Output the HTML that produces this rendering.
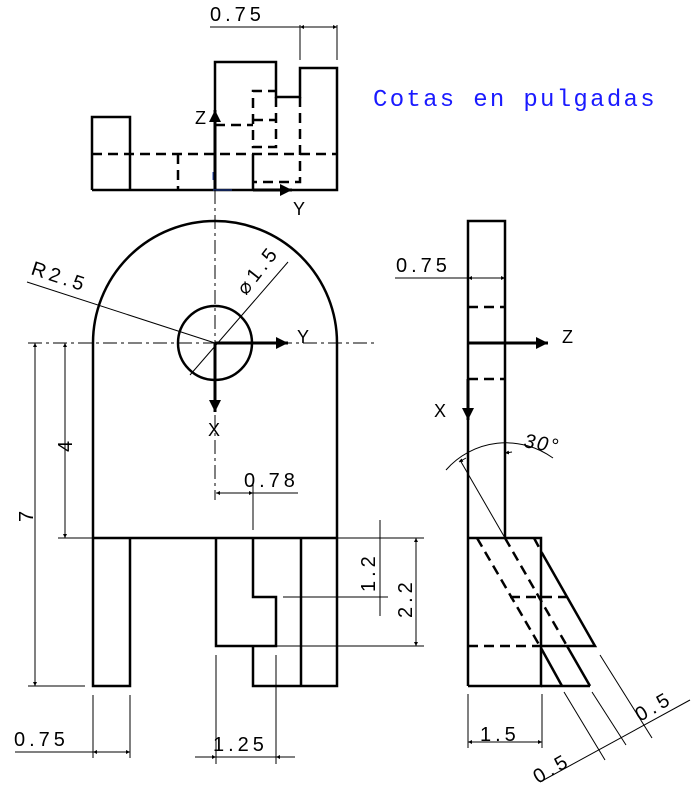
<!DOCTYPE html>
<html><head><meta charset="utf-8"><style>
html,body{margin:0;padding:0;background:#fff}
svg{display:block}
text{font-family:"Liberation Sans",sans-serif;font-size:20px;fill:#000;letter-spacing:4px}
</style></head><body>
<svg width="700" height="786" viewBox="0 0 700 786" xmlns="http://www.w3.org/2000/svg">
<defs>
<marker id="a" viewBox="0 0 10 10" refX="10" refY="5" markerWidth="6" markerHeight="4" orient="auto-start-reverse"><path d="M0,0L10,5L0,10z" fill="#000"/></marker>
<marker id="b" viewBox="0 0 10 10" refX="10" refY="5" markerWidth="4" markerHeight="4" orient="auto-start-reverse"><path d="M0,0L10,5L0,10z" fill="#000"/></marker>
</defs>
<text x="373" y="106" style="font-family:'Liberation Mono',monospace;font-size:24px;fill:#1a1aff;letter-spacing:2.3px">Cotas en pulgadas</text>

<!-- TOP VIEW -->
<g stroke="#000" stroke-width="2.5" fill="none">
<path d="M92,190V117H130V190"/>
<path d="M92,190H337V68H300V97H276V62H215V190"/>
<path d="M253,154V190"/>
</g>
<g stroke="#000" stroke-width="2.5" fill="none" stroke-dasharray="10,6">
<path d="M92,154H337"/><path d="M178,154V190"/>
<path d="M276,97V147H253V91H276"/><path d="M253,120H276"/>
<path d="M215,125H253"/><path d="M300,97V182H253"/>
</g>
<path d="M215,190V110" stroke="#000" stroke-width="3" marker-end="url(#a)"/>
<path d="M253,190H292" stroke="#000" stroke-width="3" marker-end="url(#a)"/>
<text x="195" y="124" style="letter-spacing:0;font-size:18px">Z</text>
<text x="293" y="215" style="letter-spacing:0;font-size:18px">Y</text>
<path d="M213,180V172M213,190H232" stroke="#2244aa" stroke-width="1"/>
<g stroke="#000" stroke-width="1" fill="none">
<path d="M300,60V25M337,60V25M210,27H337"/>
<path d="M300,27H318" marker-start="url(#b)"/><path d="M318,27H337" marker-end="url(#b)"/>
</g>
<text x="210" y="21">0.75</text>

<!-- FRONT VIEW -->
<g stroke="#000" stroke-width="1" fill="none" stroke-dasharray="14,4,3,4">
<path d="M28,343H375"/><path d="M215,190V500"/>
</g>
<g stroke="#000" stroke-width="2.5" fill="none">
<path d="M93,538V343A122,122 0 0 1 337,343V686H253V646"/>
<path d="M93,538H337"/>
<path d="M93,538V686H130V538"/>
<path d="M216,538V646H276V597H253V538"/>
<path d="M301,538V686"/>
<circle cx="215" cy="343" r="37"/>
</g>
<path d="M215,343H288" stroke="#000" stroke-width="3" marker-end="url(#a)"/>
<path d="M215,343V412" stroke="#000" stroke-width="3" marker-end="url(#a)"/>
<text x="297" y="343" style="letter-spacing:0;font-size:18px">Y</text>
<text x="208" y="436" style="letter-spacing:0;font-size:18px">X</text>
<g stroke="#000" stroke-width="1" fill="none">
<path d="M27,282L215,343"/>
<path d="M190,375L288,262"/>
<path d="M35,343V686" marker-start="url(#b)" marker-end="url(#b)"/>
<path d="M28,686H85"/>
<path d="M65,343V538" marker-start="url(#b)" marker-end="url(#b)"/>
<path d="M58,538H93"/>
<path d="M216,493H253" marker-start="url(#b)" marker-end="url(#b)"/><path d="M253,493H298M253,482V530"/>
<path d="M380,520V616"/>
<path d="M283,597H388"/>
<path d="M416,538V646" marker-start="url(#b)" marker-end="url(#b)"/>
<path d="M337,538H424M276,646H424"/>
<path d="M93,695V758M130,695V758M15,752H130"/>
<path d="M93,752H110" marker-start="url(#b)"/><path d="M112,752H130" marker-end="url(#b)"/>
<path d="M216,655V764M276,655V764M195,757H295"/>
<path d="M200,757H216" marker-end="url(#b)"/><path d="M295,757H276" marker-end="url(#b)"/>
</g>
<text x="244" y="487">0.78</text>
<text x="14" y="746">0.75</text>
<text x="213" y="751">1.25</text>
<text x="0" y="0" transform="translate(72,452) rotate(-90)">4</text>
<text x="0" y="0" transform="translate(33,522) rotate(-90)">7</text>
<text x="0" y="0" transform="translate(375,592) rotate(-90)">1.2</text>
<text x="0" y="0" transform="translate(412,618) rotate(-90)">2.2</text>
<text x="0" y="0" transform="translate(30,274) rotate(18)">R2.5</text>
<text x="0" y="0" transform="translate(246,296) rotate(-52)">⌀1.5</text>

<!-- SIDE VIEW -->
<g stroke="#000" stroke-width="2.5" fill="none">
<path d="M468,686V221H505V538"/>
<path d="M468,538H541V686H468"/>
<path d="M542,553L595,646H541"/>
<path d="M541,648L562,686"/>
<path d="M567,646L590,686"/>
<path d="M541,686H590"/>
</g>
<g stroke="#000" stroke-width="2.5" fill="none" stroke-dasharray="10,6">
<path d="M468,307H505M468,379H505"/>
<path d="M477,538L541,648"/><path d="M505,538L567,646"/>
<path d="M534,538L542,553"/>
<path d="M510,597H567"/><path d="M468,646H541"/>
</g>
<path d="M468,343H548" stroke="#000" stroke-width="3" marker-end="url(#a)"/>
<path d="M468,379V420" stroke="#000" stroke-width="3" marker-end="url(#a)"/>
<text x="562" y="343" style="letter-spacing:0;font-size:18px">Z</text>
<text x="434" y="417" style="letter-spacing:0;font-size:18px">X</text>
<g stroke="#000" stroke-width="1" fill="none">
<path d="M395,278H505"/>
<path d="M487,278H468" marker-end="url(#b)"/><path d="M487,278H505" marker-end="url(#b)"/>
<path d="M460,460L505,538"/>
<path d="M446,470A80,80 0 0 1 553,458"/>
<path d="M466,458L459,462" marker-end="url(#b)"/>
<path d="M512,452L505,453" marker-end="url(#b)"/>
<path d="M468,694V748M542,694V748M468,742H542"/>
<path d="M490,742H468" marker-end="url(#b)"/><path d="M520,742H542" marker-end="url(#b)"/>
<path d="M564,692L605,760"/><path d="M592,692L626,745"/><path d="M600,655L652,738"/>
<path d="M540,782L690,700"/>
</g>
<text x="396" y="272">0.75</text>
<text x="0" y="0" transform="translate(523,447) rotate(10)" style="font-style:italic;letter-spacing:2px">30°</text>
<text x="480" y="741">1.5</text>
<text x="0" y="0" transform="translate(538,784) rotate(-30)">0.5</text>
<text x="0" y="0" transform="translate(640,722) rotate(-30)">0.5</text>
</svg>
</body></html>
